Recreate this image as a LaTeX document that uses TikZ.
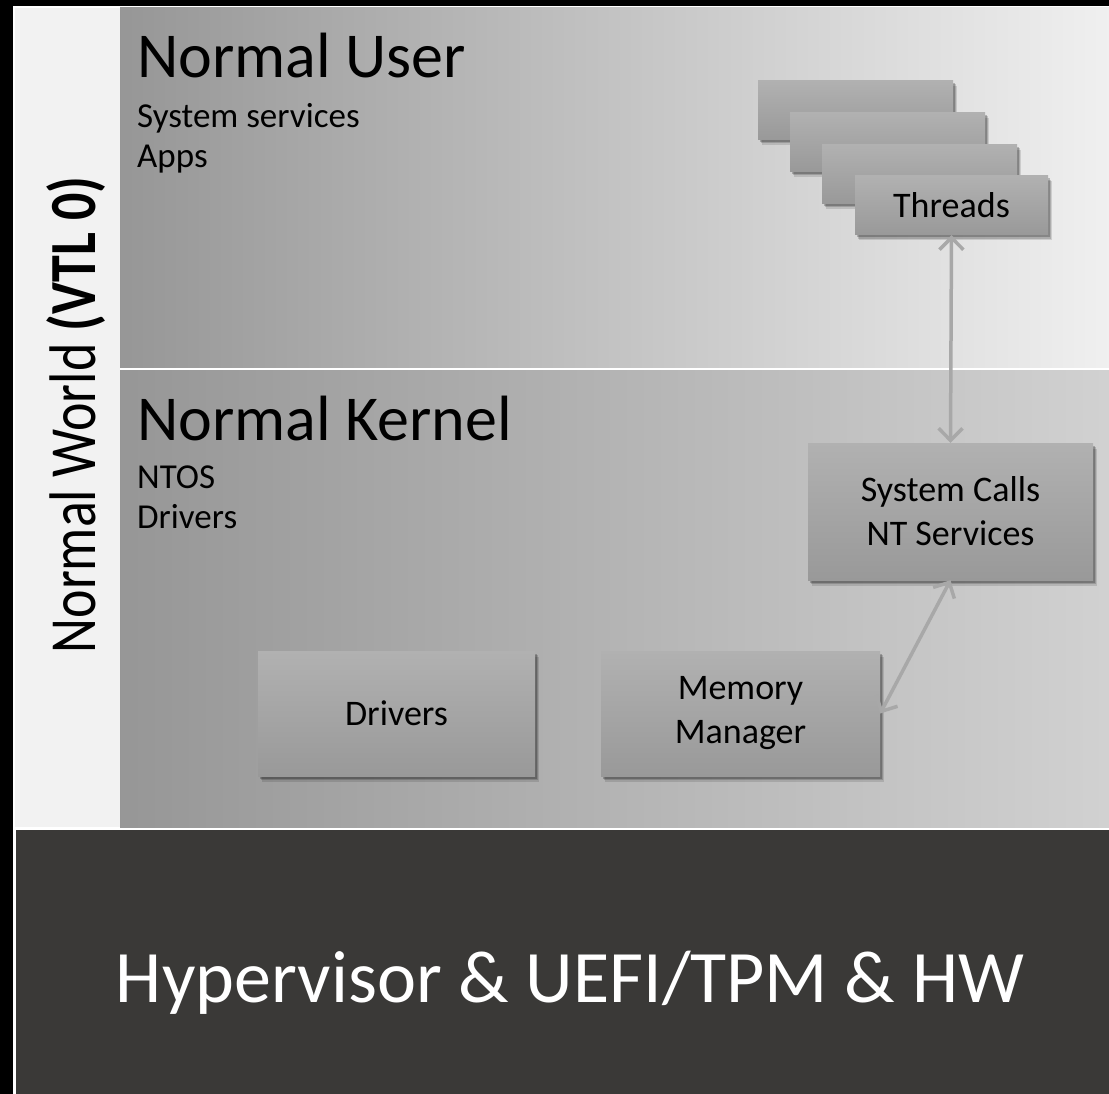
\documentclass[tikz,border=0pt]{standalone}
\usepackage{fontspec}
\setmainfont{Carlito}
\usetikzlibrary{arrows.meta,shadows}
\definecolor{leftpanel}{HTML}{F2F2F2}
\definecolor{darkhw}{HTML}{3A3937}
\definecolor{arrowgray}{HTML}{A8A8A8}
\definecolor{boxtop}{HTML}{B1B1B1}
\definecolor{boxbot}{HTML}{999999}
\tikzset{
  compbox/.style={rectangle, inner sep=0pt, top color=boxtop, bottom color=boxbot,
    drop shadow={shadow xshift=3.5pt, shadow yshift=-5.5pt, opacity=0.12, fill=black},
    drop shadow={shadow xshift=2.5pt, shadow yshift=-4pt, opacity=0.16, fill=black},
    drop shadow={shadow xshift=1.5pt, shadow yshift=-2.5pt, opacity=0.22, fill=black},
    font=\fontsize{36}{44}\selectfont, align=center, text=black},
  conn/.style={arrowgray, line width=3.5pt,
    {Straight Barb[length=12pt,width=24pt]}-{Straight Barb[length=12pt,width=24pt]}},
  title/.style={anchor=base west, inner sep=0pt, font=\fontsize{64}{70}\selectfont},
  sub/.style={anchor=base west, inner sep=0pt, font=\fontsize{35}{40}\selectfont}
}
\begin{document}
\begin{tikzpicture}[x=1pt,y=-1pt]
\useasboundingbox (0,0) rectangle (1109,1094);
\fill[black] (0,0) rectangle (1109,1094);
\fill[white] (13,6) rectangle (1109,1094);
\fill[leftpanel] (15,8) rectangle (120,827);
\shade[left color=black!41, right color=black!6] (120,8) rectangle (1109,367);
\shade[left color=black!41, right color=black!18] (120,370) rectangle (1109,827);
\fill[darkhw] (16,830) rectangle (1109,1094);

% side label
\node[anchor=base, inner sep=0pt, rotate=90] (world) at (95,415)
  {\fontsize{54}{60}\selectfont\scalebox{1}[1.22]{Normal World \textbf{(VTL 0)}}};

% region titles
\node[title] (usert) at (137,78) {Normal User};
\node[sub] (svc) at (137,128) {System services};
\node[sub] (apps) at (137,168) {Apps};
\node[title] (kernt) at (137,440) {Normal Kernel};
\node[sub] (ntos) at (137,488) {NTOS};
\node[sub] (drvt) at (137,528) {Drivers};

% threads stack
\node[compbox, minimum width=195pt, minimum height=59pt] (t1) at (855.5,110) {};
\node[compbox, minimum width=195pt, minimum height=59pt] (t2) at (887.5,142) {};
\node[compbox, minimum width=195pt, minimum height=59pt] (t3) at (919.5,174) {};
\node[compbox, minimum width=193pt, minimum height=59pt] (threads) at (951.5,205.5) {Threads};

% kernel components
\node[compbox, minimum width=285pt, minimum height=137pt] (sys) at (950.5,511.5) {System Calls\\NT Services};
\node[compbox, minimum width=279pt, minimum height=125pt] (mm) at (740.5,713.5) {Memory\\Manager};
\node[compbox, minimum width=277pt, minimum height=125pt] (drv) at (396.5,713.5) {Drivers};

% connectors
\draw[conn] (threads.south) -- (sys.north);
\draw[conn] (sys.south) -- (mm.east);

% hardware
\node[anchor=base, inner sep=0pt, text=white, font=\fontsize{74}{80}\selectfont] (hw) at (570,1002) {Hypervisor \& UEFI/TPM \& HW};
\end{tikzpicture}
\end{document}
